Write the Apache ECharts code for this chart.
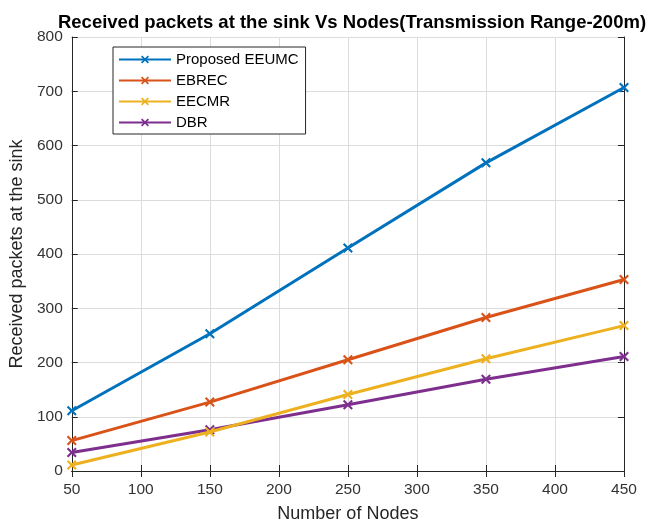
<!DOCTYPE html>
<html><head><meta charset="utf-8">
<script src="https://cdn.jsdelivr.net/npm/echarts@6/dist/echarts.min.js"></script>
<style>html,body{margin:0;padding:0;background:#fff}#c{width:647px;height:528px}</style>
</head><body><div id="c"></div>
<script>
const nodes = [50, 150, 250, 350, 450];
const eeumc = [111, 253, 411, 568, 707];
const ebrec = [56, 127, 205, 283, 353];
const eecmr = [11, 72, 141, 207, 268];
const dbr = [34, 76, 122, 169, 211];
const seriesNames = ['Proposed EEUMC', 'EBREC', 'EECMR', 'DBR'];
const seriesValues = [eeumc, ebrec, eecmr, dbr];
const colors = ['#0072BD', '#D95319', '#EDB120', '#7E2F8E'];
const xMark = 'path://M1.5,0L5,3.5L8.5,0L10,1.5L6.5,5L10,8.5L8.5,10L5,6.5L1.5,10L0,8.5L3.5,5L0,1.5Z';
const font = 'Liberation Sans, Arial, sans-serif';

const chart = echarts.init(document.getElementById('c'));
const axisLine = {show: true, lineStyle: {color: '#262626', width: 1}};
const tick = {show: true, inside: true, length: 6, lineStyle: {color: '#262626'}};
chart.setOption({
  animation: false,
  color: colors,
  title: {
    text: 'Received packets at the sink Vs Nodes(Transmission Range-200m)',
    left: 347, top: 8, textAlign: 'center',
    textStyle: {fontFamily: font, fontSize: 18.5, fontWeight: 'bold', color: '#000'}
  },
  grid: {left: 71, right: 23, top: 37, bottom: 53, containLabel: false},
  legend: {
    orient: 'vertical', left: 113, top: 47,
    backgroundColor: '#fff', borderColor: '#262626', borderWidth: 1,
    padding: [5, 7, 4, 5], itemGap: 6, itemWidth: 52, itemHeight: 10,
    textStyle: {fontFamily: font, fontSize: 15, color: '#000'},
    data: seriesNames
  },
  xAxis: [{
    type: 'value', min: 50, max: 450, interval: 50,
    name: 'Number of Nodes', nameLocation: 'middle', nameGap: 34,
    nameTextStyle: {fontFamily: font, fontSize: 18, color: '#262626'},
    axisLine: axisLine, axisTick: tick,
    axisLabel: {fontFamily: font, fontSize: 15.5, color: '#333', margin: 11},
    splitLine: {show: true, lineStyle: {color: '#dcdcdc', width: 1}}
  }, {
    type: 'value', position: 'top', min: 50, max: 450, interval: 50,
    axisLine: axisLine, axisTick: tick,
    axisLabel: {show: false}, splitLine: {show: false}
  }],
  yAxis: [{
    type: 'value', min: 0, max: 800, interval: 100,
    name: 'Received packets at the sink', nameLocation: 'middle', nameGap: 45,
    nameTextStyle: {fontFamily: font, fontSize: 18, color: '#262626'},
    axisLine: axisLine, axisTick: tick,
    axisLabel: {fontFamily: font, fontSize: 15.5, color: '#333', margin: 9},
    splitLine: {show: true, lineStyle: {color: '#dcdcdc', width: 1}}
  }, {
    type: 'value', position: 'right', min: 0, max: 800, interval: 100,
    axisLine: axisLine, axisTick: tick,
    axisLabel: {show: false}, splitLine: {show: false}
  }],
  series: seriesNames.map((n, i) => ({
    name: n, type: 'line', xAxisIndex: 0, yAxisIndex: 0,
    data: nodes.map((x, j) => [x, seriesValues[i][j]]),
    symbol: xMark, symbolSize: 10, showSymbol: true,
    lineStyle: {width: 3, color: colors[i]},
    itemStyle: {color: colors[i]},
    z: 10 - i
  }))
});
</script></body></html>
